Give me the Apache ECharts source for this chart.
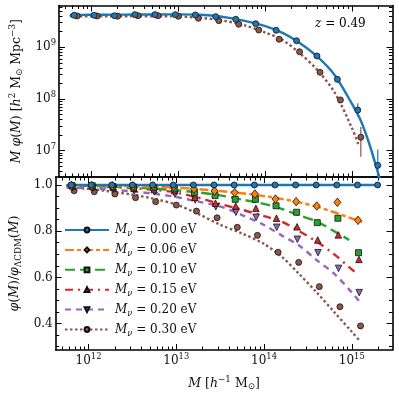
<!DOCTYPE html>
<html><head><meta charset="utf-8">
<script src="https://cdn.jsdelivr.net/npm/echarts@6/dist/echarts.min.js"></script>
<style>html,body{margin:0;padding:0;background:#fff}#c{width:399px;height:395px}</style>
</head><body><div id="c"></div>
<script>
// ================= DATA =================
// axis ticks
const xMajorTicks = [1e12, 1e13, 1e14, 1e15];
const xMinorTicks = [5e11,6e11,7e11,8e11,9e11, 2e12,3e12,4e12,5e12,6e12,7e12,8e12,9e12,
  2e13,3e13,4e13,5e13,6e13,7e13,8e13,9e13, 2e14,3e14,4e14,5e14,6e14,7e14,8e14,9e14, 2e15];
const topYMajorTicks = [1e7, 1e8, 1e9];
const topYMinorTicks = [4e6,5e6,6e6,7e6,8e6,9e6, 2e7,3e7,4e7,5e7,6e7,7e7,8e7,9e7,
  2e8,3e8,4e8,5e8,6e8,7e8,8e8,9e8, 2e9,3e9,4e9,5e9,6e9];
const botYMajorTicks = [0.4, 0.6, 0.8, 1.0];
const botYMinorTicks = [0.3,0.35,0.45,0.5,0.55,0.65,0.7,0.75,0.85,0.9,0.95];

// bin centres, log10(M / h^-1 Msun)
const logM_000 = [11.80,12.03,12.265,12.50,12.73,12.965,13.195,13.43,13.66,13.89,14.125,14.36,14.595,14.83,15.065,15.295];
const logM_006 = [11.806,12.036,12.271,12.506,12.736,12.971,13.201,13.436,13.666,13.896,14.131,14.366,14.601,14.836,15.071];
const logM_010 = [11.812,12.042,12.277,12.512,12.742,12.977,13.207,13.442,13.672,13.902,14.137,14.372,14.607,14.842,15.077];
const logM_015 = [11.817,12.047,12.282,12.517,12.747,12.982,13.212,13.447,13.677,13.907,14.142,14.377,14.612,14.847,15.082];
const logM_020 = [11.82,12.05,12.285,12.52,12.75,12.985,13.215,13.45,13.68,13.91,14.145,14.38,14.615,14.85,15.085];
const logM_030 = [11.835,12.065,12.30,12.535,12.765,13.0,13.23,13.465,13.695,13.925,14.16,14.395,14.63,14.865,15.10];

// top panel: M phi(M)
const mphi_000 = [4.16e9,4.16e9,4.08e9,4.28e9,4.28e9,4.28e9,4.22e9,3.91e9,3.48e9,2.86e9,2.13e9,1.34e9,6.8e8,2.4e8,6.1e7,5.2e6];
const mphi_030 = [4.03e9,4.03e9,3.98e9,4.08e9,4.08e9,3.98e9,3.64e9,3.27e9,2.79e9,2.16e9,1.43e9,8.2e8,3.28e8,9.6e7,1.82e7];
// error bars [log10 M, low, high]
const err_000 = [[15.065, 4.5e7, 8.3e7], [15.295, 2.0e6, 1.06e7]];
const err_030 = [[15.10, 7.66e6, 2.87e7]];

// top panel model curves
const curveLogM_000 = [11.75,12.0,12.25,12.5,12.75,13.0,13.25,13.5,13.75,14.0,14.2,14.4,14.6,14.8,15.0,15.1,15.2,15.3,15.33];
const curveMphi_000 = [4.217e9,4.246e9,4.276e9,4.295e9,4.315e9,4.325e9,4.246e9,3.89e9,3.273e9,2.57e9,1.897e9,1.202e9,6.577e8,2.884e8,7.94e7,3.80e7,1.318e7,3.63e6,2.4e6];
const curveLogM_030 = [11.75,12.0,12.25,12.5,12.75,13.0,13.25,13.5,13.75,14.0,14.2,14.4,14.6,14.8,15.0,15.08];
const curveMphi_030 = [3.98e9,3.98e9,3.98e9,4.0e9,3.98e9,3.94e9,3.72e9,3.31e9,2.69e9,1.93e9,1.38e9,7.59e8,3.63e8,1.32e8,2.69e7,1.20e7];

// bottom panel: ratio to LCDM
const ratio_000 = [1,1,1,1,1,1,1,1,1,1,1,1,1,1,1,1];
const ratio_006 = [0.998,0.997,0.996,0.995,0.995,0.993,0.983,0.974,0.967,0.961,0.939,0.928,0.909,0.925,0.847];
const ratio_010 = [0.998,0.997,0.994,0.991,0.988,0.983,0.968,0.954,0.938,0.938,0.910,0.882,0.837,0.856,0.707];
const ratio_015 = [0.996,0.993,0.990,0.986,0.980,0.975,0.947,0.921,0.909,0.899,0.856,0.819,0.762,0.784,0.678];
const ratio_020 = [0.988,0.986,0.983,0.975,0.970,0.960,0.935,0.906,0.882,0.860,0.817,0.765,0.707,0.639,0.534];
const ratio_030 = [0.975,0.971,0.961,0.945,0.928,0.913,0.887,0.858,0.817,0.782,0.709,0.665,0.560,0.473,0.390];

// bottom panel model curves
const rcLogM_000 = [11.75, 15.32];
const rcRatio_000 = [1, 1];
const rcLogM_006 = [11.75,12.0,12.25,12.5,12.75,13.0,13.25,13.5,13.75,14.0,14.2,14.4,14.6,14.8,15.0,15.12];
const rcRatio_006 = [0.999,0.998,0.997,0.995,0.992,0.988,0.982,0.974,0.964,0.952,0.94,0.925,0.906,0.882,0.855,0.84];
const rcLogM_010 = [11.75,12.0,12.25,12.5,12.75,13.0,13.25,13.5,13.75,14.0,14.2,14.4,14.6,14.8,14.97];
const rcRatio_010 = [0.998,0.996,0.993,0.989,0.984,0.977,0.968,0.955,0.937,0.918,0.897,0.869,0.842,0.80,0.762];
const rcLogM_015 = [11.75,12.0,12.25,12.5,12.75,13.0,13.25,13.5,13.75,14.0,14.2,14.4,14.6,14.8,15.0,15.07];
const rcRatio_015 = [0.997,0.995,0.991,0.986,0.979,0.967,0.945,0.918,0.893,0.865,0.842,0.80,0.755,0.70,0.635,0.615];
const rcLogM_020 = [11.75,12.0,12.25,12.5,12.75,13.0,13.25,13.5,13.75,14.0,14.2,14.4,14.6,14.8,15.0,15.08];
const rcRatio_020 = [0.99,0.986,0.98,0.972,0.962,0.948,0.928,0.907,0.87,0.827,0.782,0.738,0.675,0.616,0.535,0.499];
const rcLogM_030 = [11.75,12.0,12.25,12.5,12.75,13.0,13.25,13.5,13.75,14.0,14.2,14.4,14.6,14.8,15.0,15.08];
const rcRatio_030 = [0.99,0.983,0.972,0.958,0.94,0.915,0.875,0.828,0.79,0.745,0.69,0.615,0.535,0.45,0.365,0.33];

const modelLabels = ['0.00', '0.06', '0.10', '0.15', '0.20', '0.30'];
const redshiftLabel = '0.49';

// ================= STYLE / BUILD =================
const FONT = 'DejaVu Serif, Liberation Serif, serif';
const C = ['#1f77b4', '#ff7f0e', '#2ca02c', '#d62728', '#9467bd', '#8c564b'];
const P = v => Math.pow(10, v);
const pts = (xs, ys) => xs.map((x, i) => [P(x), ys[i]]);
function mkRich(fs) {
  const s = fs * 0.7;
  return {
    t: {fontFamily: FONT, fontSize: fs, color: '#111', lineHeight: fs + 4},
    i: {fontFamily: FONT, fontSize: fs, fontStyle: 'italic', color: '#111', lineHeight: fs + 4},
    sup: {fontFamily: FONT, fontSize: s, color: '#111', lineHeight: s + 2, verticalAlign: 'top'},
    sub: {fontFamily: FONT, fontSize: s, color: '#111', lineHeight: s + 2, verticalAlign: 'bottom'},
    subi: {fontFamily: FONT, fontSize: s, fontStyle: 'italic', color: '#111', lineHeight: s + 2, verticalAlign: 'bottom'},
    g: {width: 1}
  };
}
const rich = mkRich(12);
const richName = mkRich(12.5);
const powLabel = v => '{t|10}{sup|' + Math.round(Math.log10(v)) + '}';

const xMin = 4.224e11, xMax = 2.914e15;
const topMin = 3.10e6, topMax = 6.43e9;
const botMin = 0.2857, botMax = 1.0346;

const grids = [
  {left: 47, right: 6.5, top: 5.5, height: 171.5},
  {left: 47, right: 6.5, top: 177, height: 173}
];
const AL = {show: true, onZero: false, lineStyle: {color: '#000', width: 1.6}};
function xAx(grid, pos, ticks, len, line, label, extra) {
  return Object.assign({
    type: 'log', logBase: 10, gridIndex: grid, position: pos, min: xMin, max: xMax,
    axisLine: line ? AL : {show: false},
    axisTick: {show: true, inside: true, length: len, customValues: ticks, lineStyle: {color: '#000', width: 1}},
    axisLabel: label ? {show: true, customValues: ticks, formatter: powLabel, margin: 3, rich: rich} : {show: false},
    splitLine: {show: false}, minorTick: {show: false}
  }, extra || {});
}
function yAx(grid, pos, type, min, max, ticks, len, line, label, fmt, extra) {
  const o = {
    type: type, gridIndex: grid, position: pos, min: min, max: max,
    axisLine: line ? AL : {show: false},
    axisTick: {show: true, inside: true, length: len, customValues: ticks, lineStyle: {color: '#000', width: 1}},
    axisLabel: label ? {show: true, customValues: ticks, formatter: fmt, margin: 3, rich: rich, fontFamily: FONT, fontSize: 12, color: '#111'} : {show: false},
    splitLine: {show: false}, minorTick: {show: false}
  };
  if (type === 'log') o.logBase = 10;
  return Object.assign(o, extra || {});
}

const xAxis = [
  xAx(0, 'bottom', xMajorTicks, 6, true, false),
  xAx(0, 'bottom', xMinorTicks, 3.5, false, false),
  xAx(0, 'top', xMajorTicks, 6, true, false),
  xAx(0, 'top', xMinorTicks, 3.5, false, false),
  xAx(1, 'bottom', xMajorTicks, 6, true, true, {
    name: '{i|M}{t| [}{i|h}{sup|−1}{t| M}{sub|⊙}{t|]}', nameLocation: 'middle', nameGap: 25,
    nameTextStyle: {rich: richName}
  }),
  xAx(1, 'bottom', xMinorTicks, 3.5, false, false),
  xAx(1, 'top', xMajorTicks, 6, true, false),
  xAx(1, 'top', xMinorTicks, 3.5, false, false)
];
const yAxis = [
  yAx(0, 'left', 'log', topMin, topMax, topYMajorTicks, 6, true, true, powLabel, {
    name: '{i|M}{t| }{i|φ}{t|(}{i|M}{t|) [}{i|h}{sup|2}{t| M}{sub|⊙}{t| Mpc}{sup|−3}{t|]}',
    nameLocation: 'middle', nameGap: 24, nameRotate: 90, nameTextStyle: {rich: richName}
  }),
  yAx(0, 'left', 'log', topMin, topMax, topYMinorTicks, 3.5, false, false),
  yAx(0, 'right', 'log', topMin, topMax, topYMajorTicks, 6, true, false),
  yAx(0, 'right', 'log', topMin, topMax, topYMinorTicks, 3.5, false, false),
  yAx(1, 'left', 'value', botMin, botMax, botYMajorTicks, 6, true, true, v => '{t|' + v.toFixed(1) + '}', {
    name: '{i|φ}{t|(}{i|M}{t|)/}{i|φ}{sub|ΛCDM}{t|(}{i|M}{t|)}',
    nameLocation: 'middle', nameGap: 24, nameRotate: 90, nameTextStyle: {rich: richName}
  }),
  yAx(1, 'left', 'value', botMin, botMax, botYMinorTicks, 3.5, false, false),
  yAx(1, 'right', 'value', botMin, botMax, botYMajorTicks, 6, true, false),
  yAx(1, 'right', 'value', botMin, botMax, botYMinorTicks, 3.5, false, false)
];

const symbols = ['circle', 'diamond', 'rect', 'triangle', 'triangle', 'circle'];
const symSizes = [6, [7, 8.5], 6, 6.5, 6.5, 6];
const symRot = [0, 0, 0, 0, 180, 0];
const dashes = ['solid', [9, 3, 4, 3], [10, 5], [8, 5, 2, 5], [6, 5], [2.5, 2.5]];
const names = modelLabels.map(l => 'mnu' + l);
const bins = [logM_000, logM_006, logM_010, logM_015, logM_020, logM_030];
const ratios = [ratio_000, ratio_006, ratio_010, ratio_015, ratio_020, ratio_030];
const rcX = [rcLogM_000, rcLogM_006, rcLogM_010, rcLogM_015, rcLogM_020, rcLogM_030];
const rcY = [rcRatio_000, rcRatio_006, rcRatio_010, rcRatio_015, rcRatio_020, rcRatio_030];

const series = [];
function lineS(xi, yi, data, k, z) {
  return {type: 'line', xAxisIndex: xi, yAxisIndex: yi, data: data, showSymbol: false, symbol: 'none',
    smooth: 0.3, z: z || 2, silent: true, clip: true,
    lineStyle: {color: C[k], width: 2.4, type: dashes[k], cap: 'butt'}};
}
function scatS(xi, yi, data, k) {
  return {type: 'scatter', xAxisIndex: xi, yAxisIndex: yi, data: data, symbol: symbols[k],
    symbolSize: symSizes[k], symbolRotate: symRot[k], z: 5, silent: true, clip: false,
    itemStyle: {color: C[k], borderColor: '#111', borderWidth: 0.8, opacity: 1}};
}
function errS(xi, yi, data, k) {
  return {type: 'custom', xAxisIndex: xi, yAxisIndex: yi, z: 4, silent: true, clip: true,
    data: data.map(d => [P(d[0]), d[1], d[2]]), encode: {x: 0, y: [1, 2]},
    renderItem: (params, api) => {
      const a = api.coord([api.value(0), api.value(1)]);
      const b = api.coord([api.value(0), api.value(2)]);
      return {type: 'line', shape: {x1: a[0], y1: a[1], x2: b[0], y2: b[1]}, style: {stroke: C[k], lineWidth: 1.2}};
    }};
}
// top panel
series.push(lineS(0, 0, pts(curveLogM_030, curveMphi_030), 5));
series.push(lineS(0, 0, pts(curveLogM_000, curveMphi_000), 0, 3));
series.push(errS(0, 0, err_030, 5));
series.push(errS(0, 0, err_000, 0));
series.push(scatS(0, 0, pts(logM_030, mphi_030), 5));
series.push(scatS(0, 0, pts(logM_000, mphi_000), 0));
// bottom panel
for (let k = 5; k >= 0; k--) series.push(lineS(4, 4, pts(rcX[k], rcY[k]), k));
for (let k = 5; k >= 0; k--) series.push(scatS(4, 4, pts(bins[k], ratios[k]), k));
// legend proxies
for (let k = 0; k < 6; k++) {
  series.push({type: 'line', name: names[k], xAxisIndex: 4, yAxisIndex: 4, data: [],
    symbol: symbols[k], symbolRotate: symRot[k], symbolSize: 5,
    lineStyle: {color: C[k], width: 2.4, type: dashes[k]},
    itemStyle: {color: C[k], borderColor: '#111', borderWidth: 0.8}});
}

const option = {
  animation: false,
  backgroundColor: '#fff',
  grid: grids,
  xAxis: xAxis,
  yAxis: yAxis,
  legend: {
    data: names, orient: 'vertical', left: 59, top: 219, itemWidth: 44, itemHeight: 6, itemGap: 5.9,
    selectedMode: false,
    formatter: n => '{g|}{i|M}{subi|ν}{t| = ' + modelLabels[names.indexOf(n)] + ' eV}',
    textStyle: {rich: rich, fontFamily: FONT, fontSize: 12}
  },
  graphic: [{
    type: 'text', left: 315, top: 18,
    style: {text: '{i|z}{t| = ' + redshiftLabel + '}', rich: rich}
  }],
  series: series
};
const chart = echarts.init(document.getElementById('c'), null, {renderer: 'canvas', width: 399, height: 395});
chart.setOption(option);
</script></body></html>
